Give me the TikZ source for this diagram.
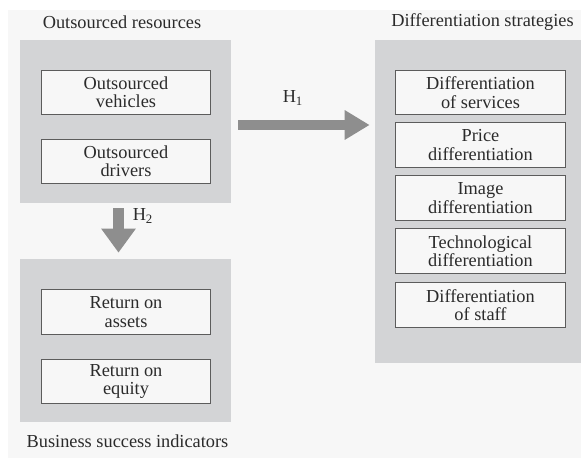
\documentclass[tikz,border=0pt]{standalone}
\usepackage{fontspec}
\setmainfont{Liberation Serif}
\usetikzlibrary{arrows.meta}

\definecolor{backgr}{HTML}{F7F7F7}
\definecolor{groupgr}{HTML}{D3D4D6}
\definecolor{arrowgr}{HTML}{8E8E8E}
\definecolor{framegr}{HTML}{5C5C5C}
\definecolor{textgr}{HTML}{2B2B2B}

\begin{document}
\begin{tikzpicture}[%
    x=0.6pt, y=-0.6pt,
    every node/.style={text=textgr, font=\fontsize{11}{11}\selectfont},
    group/.style={fill=groupgr, inner sep=0pt, minimum width=126.6pt, minimum height=97.8pt},
    item/.style={draw=framegr, line width=0.8pt, fill=backgr, align=center, inner sep=0pt,
      minimum width=101.7pt, minimum height=26.7pt},
    fat/.style={draw=arrowgr, line width=6pt, -{Triangle[length=15pt, width=16.8pt]}}
  ]
		\useasboundingbox (0,0) rectangle (581,459);
		\fill[backgr] (8,10) rectangle (581,458);

		\node at(122,22) (restitle) {Outsourced resources};
		\node at(482.5,22) (strattitle) {Differentiation strategies};
		\node at(127.5,441) (indtitle) {Business success indicators};

		\node at (125.5,121.5) [group] (res) {};
		\node at (126,92.5) [item] (veh) {Outsourced\\vehicles};
		\node at (126,161.5) [item] (drv) {Outsourced\\drivers};

		\node at (125.5,340.5) [group] (ind) {};
		\node at (126,312) [item] (roa) {Return on\\assets};
		\node at (126,381.5) [item] (roe) {Return on\\equity};

		\node at (478,201.5) [group,minimum width=123.6pt,minimum height=193.8pt] (strat) {};
		\node at (480.5,92.5) [item] (serv) {Differentiation\\of services};
		\node at (480.5,145) [item] (price) {Price\\differentiation};
		\node at (480.5,198) [item] (image) {Image\\differentiation};
		\node at (480.5,251) [item] (tech) {Technological\\differentiation};
		\node at (480.5,305) [item] (staff) {Differentiation\\of staff};

		\coordinate (h1start) at ([xshift=4.2pt,yshift=-2.1pt]res.east);
		\draw[fat,shorten >=3pt] (h1start) -- (h1start -| strat.west);
		\node at (293,98) (h1lab) {H\textsubscript{1}};

		\draw[fat,line width=6.6pt,-{Triangle[length=14.4pt, width=19.8pt]}]
			([xshift=-4.2pt,yshift=-3pt]res.south) -- ([xshift=-4.2pt,yshift=3.6pt]ind.north);
		\node at (143,216) (h2lab) {H\textsubscript{2}};
	\end{tikzpicture}
\end{document}
